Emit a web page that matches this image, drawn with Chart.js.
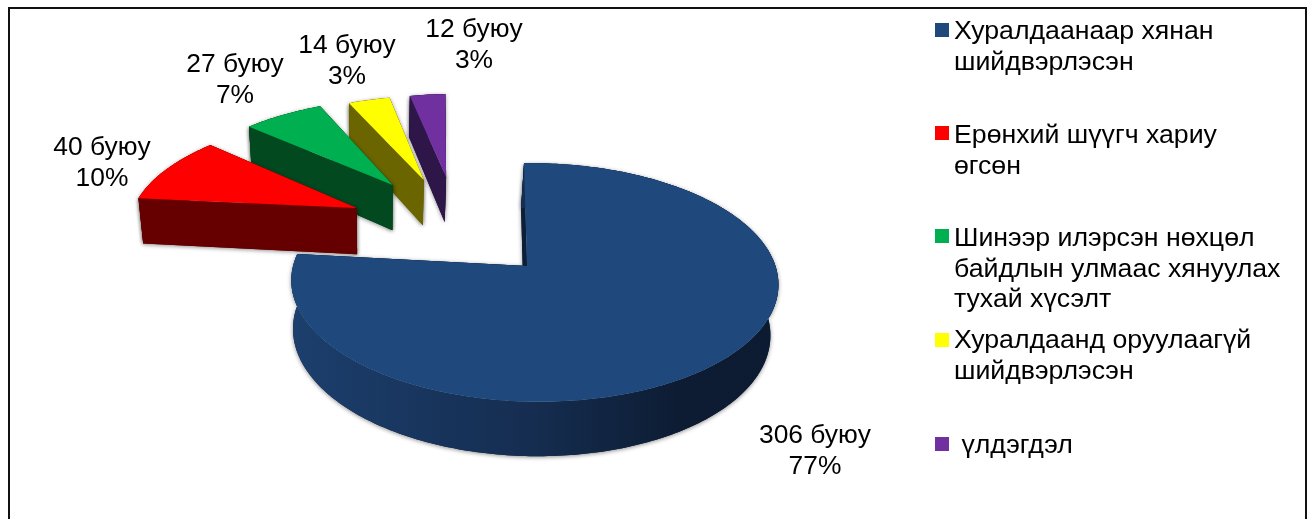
<!DOCTYPE html>
<html lang="mn">
<head>
  <meta charset="UTF-8" />
  <title>Pie chart</title>
  <script src="https://cdn.jsdelivr.net/npm/chart.js"></script>
  <style>
    html, body { margin: 0; padding: 0; background: #fff; overflow: hidden; }
    canvas { display: block; }
  </style>
</head>
<body>
  <canvas id="chart" width="1313" height="519"></canvas>

  <script>
    // data
    const categories = [
      'Хуралдаанаар хянан шийдвэрлэсэн',
      'Ерөнхий шүүгч хариу өгсөн',
      'Шинээр илэрсэн нөхцөл байдлын улмаас хянуулах тухай хүсэлт',
      'Хуралдаанд оруулаагүй шийдвэрлэсэн',
      'үлдэгдэл'
    ];
    const counts = [306, 40, 27, 14, 12];
    const percents = ['77%', '10%', '7%', '3%', '3%'];

    // styles
    const topColors = ['#1f497d', '#ff0000', '#00b050', '#ffff00', '#7030a0'];
    const wallColors = ['#0d1f38', '#660000', '#02491f', '#6b6500', '#2e1648'];
    const legendLines = [
      ['Хуралдаанаар хянан', 'шийдвэрлэсэн'],
      ['Ерөнхий шүүгч хариу', 'өгсөн'],
      ['Шинээр илэрсэн нөхцөл', 'байдлын улмаас хянуулах', 'тухай хүсэлт'],
      ['Хуралдаанд оруулаагүй', 'шийдвэрлэсэн'],
      [' үлдэгдэл']
    ];
    const legendSwatchY = [23, 126, 229, 333, 437];
    const legendBaseY = [39, 143, 246, 348, 453];
    const labelPos = [[815, 443], [102, 155], [235, 72], [347, 53], [474, 37]];
    // explosion of each slice on the pie plane, in pie radii
    const sliceShift = [[0, 0], [-0.743, -0.54], [-0.585, -0.775], [-0.44, -0.825], [-0.335, -0.855]];
    const sliceRadius = [1, 1.045, 1.025, 1.01, 1];
    const LABEL_FONT = '26.4px "Liberation Sans", Arial, sans-serif';
    const LEGEND_FONT = '26.7px "Liberation Sans", Arial, sans-serif';

    // perspective of the pie plane
    const view = { a: 117, b: 241, k: 0.138, depth: 49 };

    function project(el, u, v, sx, m, bottom) {
      const w = 1 - view.k * v - m * u;
      let x = (view.b * u + sx * v) / w;
      let y = view.a * v / w;
      if (bottom) {
        x = x * 0.98 - 3;
        y += view.depth / Math.pow(w, 0.7);
      }
      return [el.x + x, el.y + y];
    }

    function poly(ctx, pts) {
      ctx.beginPath();
      pts.forEach((p, i) => i ? ctx.lineTo(p[0], p[1]) : ctx.moveTo(p[0], p[1]));
      ctx.closePath();
    }

    function drawSlice(ctx, el, i) {
      const [su, sv] = sliceShift[i];
      const sx = i === 0 ? 3.4 : 12;
      const m = i === 0 ? 0.03 : 0.02;
      const r = sliceRadius[i];
      const n = Math.max(8, Math.round((el.endAngle - el.startAngle) * 60));
      const rim = [];
      for (let j = 0; j <= n; j++) {
        const t = el.startAngle + (el.endAngle - el.startAngle) * j / n;
        rim.push([su + r * Math.cos(t), sv + r * Math.sin(t)]);
      }
      const topRim = rim.map(p => project(el, p[0], p[1], sx, m, false));
      const botRim = rim.map(p => project(el, p[0], p[1], sx, m, true));
      const tipT = project(el, su, sv, sx, m, false);
      const tipB = project(el, su, sv, sx, m, true);

      const wallA = [tipT, topRim[0], botRim[0], tipB];
      const wallB = [tipT, topRim[n], botRim[n], tipB];
      const wallC = topRim.concat(botRim.slice().reverse());

      let curved = wallColors[i];
      if (i === 0) {
        curved = ctx.createLinearGradient(290, 0, 776, 0);
        curved.addColorStop(0, '#1c3f6d');
        curved.addColorStop(0.5, '#152d50');
        curved.addColorStop(0.8, '#0d1c33');
        curved.addColorStop(1, '#0c1b31');
      }

      // soft shadow first, then the walls again on top of it
      ctx.save();
      ctx.shadowColor = 'rgba(0,0,0,0.45)';
      ctx.shadowBlur = 4;
      ctx.shadowOffsetY = 1;
      ctx.fillStyle = wallColors[i];
      [wallA, wallB, wallC].forEach(w => { poly(ctx, w); ctx.fill(); });
      ctx.restore();

      ctx.fillStyle = wallColors[i];
      poly(ctx, wallA); ctx.fill();
      poly(ctx, wallB); ctx.fill();
      ctx.fillStyle = curved;
      poly(ctx, wallC); ctx.fill();

      // top face
      ctx.fillStyle = topColors[i];
      poly(ctx, [tipT].concat(topRim));
      ctx.fill();
    }

    const pie3d = {
      id: 'pie3d',
      beforeDatasetsDraw(chart) {
        const ctx = chart.ctx;
        const arcs = chart.getDatasetMeta(0).data;
        // back to front
        for (let i = arcs.length - 1; i >= 0; i--) drawSlice(ctx, arcs[i], i);
        return false;
      },
      afterDraw(chart) {
        const ctx = chart.ctx;
        ctx.save();

        // frame, no bottom edge in the picture
        ctx.strokeStyle = '#111';
        ctx.lineWidth = 2;
        ctx.beginPath();
        ctx.moveTo(9, 519);
        ctx.lineTo(9, 8);
        ctx.lineTo(1306, 8);
        ctx.lineTo(1306, 519);
        ctx.stroke();

        // data labels
        ctx.font = LABEL_FONT;
        ctx.fillStyle = '#000';
        ctx.textAlign = 'center';
        counts.forEach((c, i) => {
          ctx.fillText(c + ' буюу', labelPos[i][0], labelPos[i][1]);
          ctx.fillText(percents[i], labelPos[i][0], labelPos[i][1] + 31);
        });

        // legend
        ctx.font = LEGEND_FONT;
        ctx.textAlign = 'left';
        categories.forEach((name, i) => {
          ctx.fillStyle = topColors[i];
          ctx.fillRect(935, legendSwatchY[i], 14, 14);
          ctx.fillStyle = '#000';
          legendLines[i].forEach((line, j) => {
            ctx.fillText(line, 954, legendBaseY[i] + j * 30.7);
          });
        });
        ctx.restore();
      }
    };

    new Chart(document.getElementById('chart').getContext('2d'), {
      type: 'pie',
      data: {
        labels: categories,
        datasets: [{ data: counts, backgroundColor: topColors, borderWidth: 0 }]
      },
      options: {
        responsive: false,
        animation: false,
        layout: { padding: { top: 13, right: 259 } },
        plugins: { legend: { display: false }, tooltip: { enabled: false } }
      },
      plugins: [pie3d]
    });
  </script>
</body>
</html>
